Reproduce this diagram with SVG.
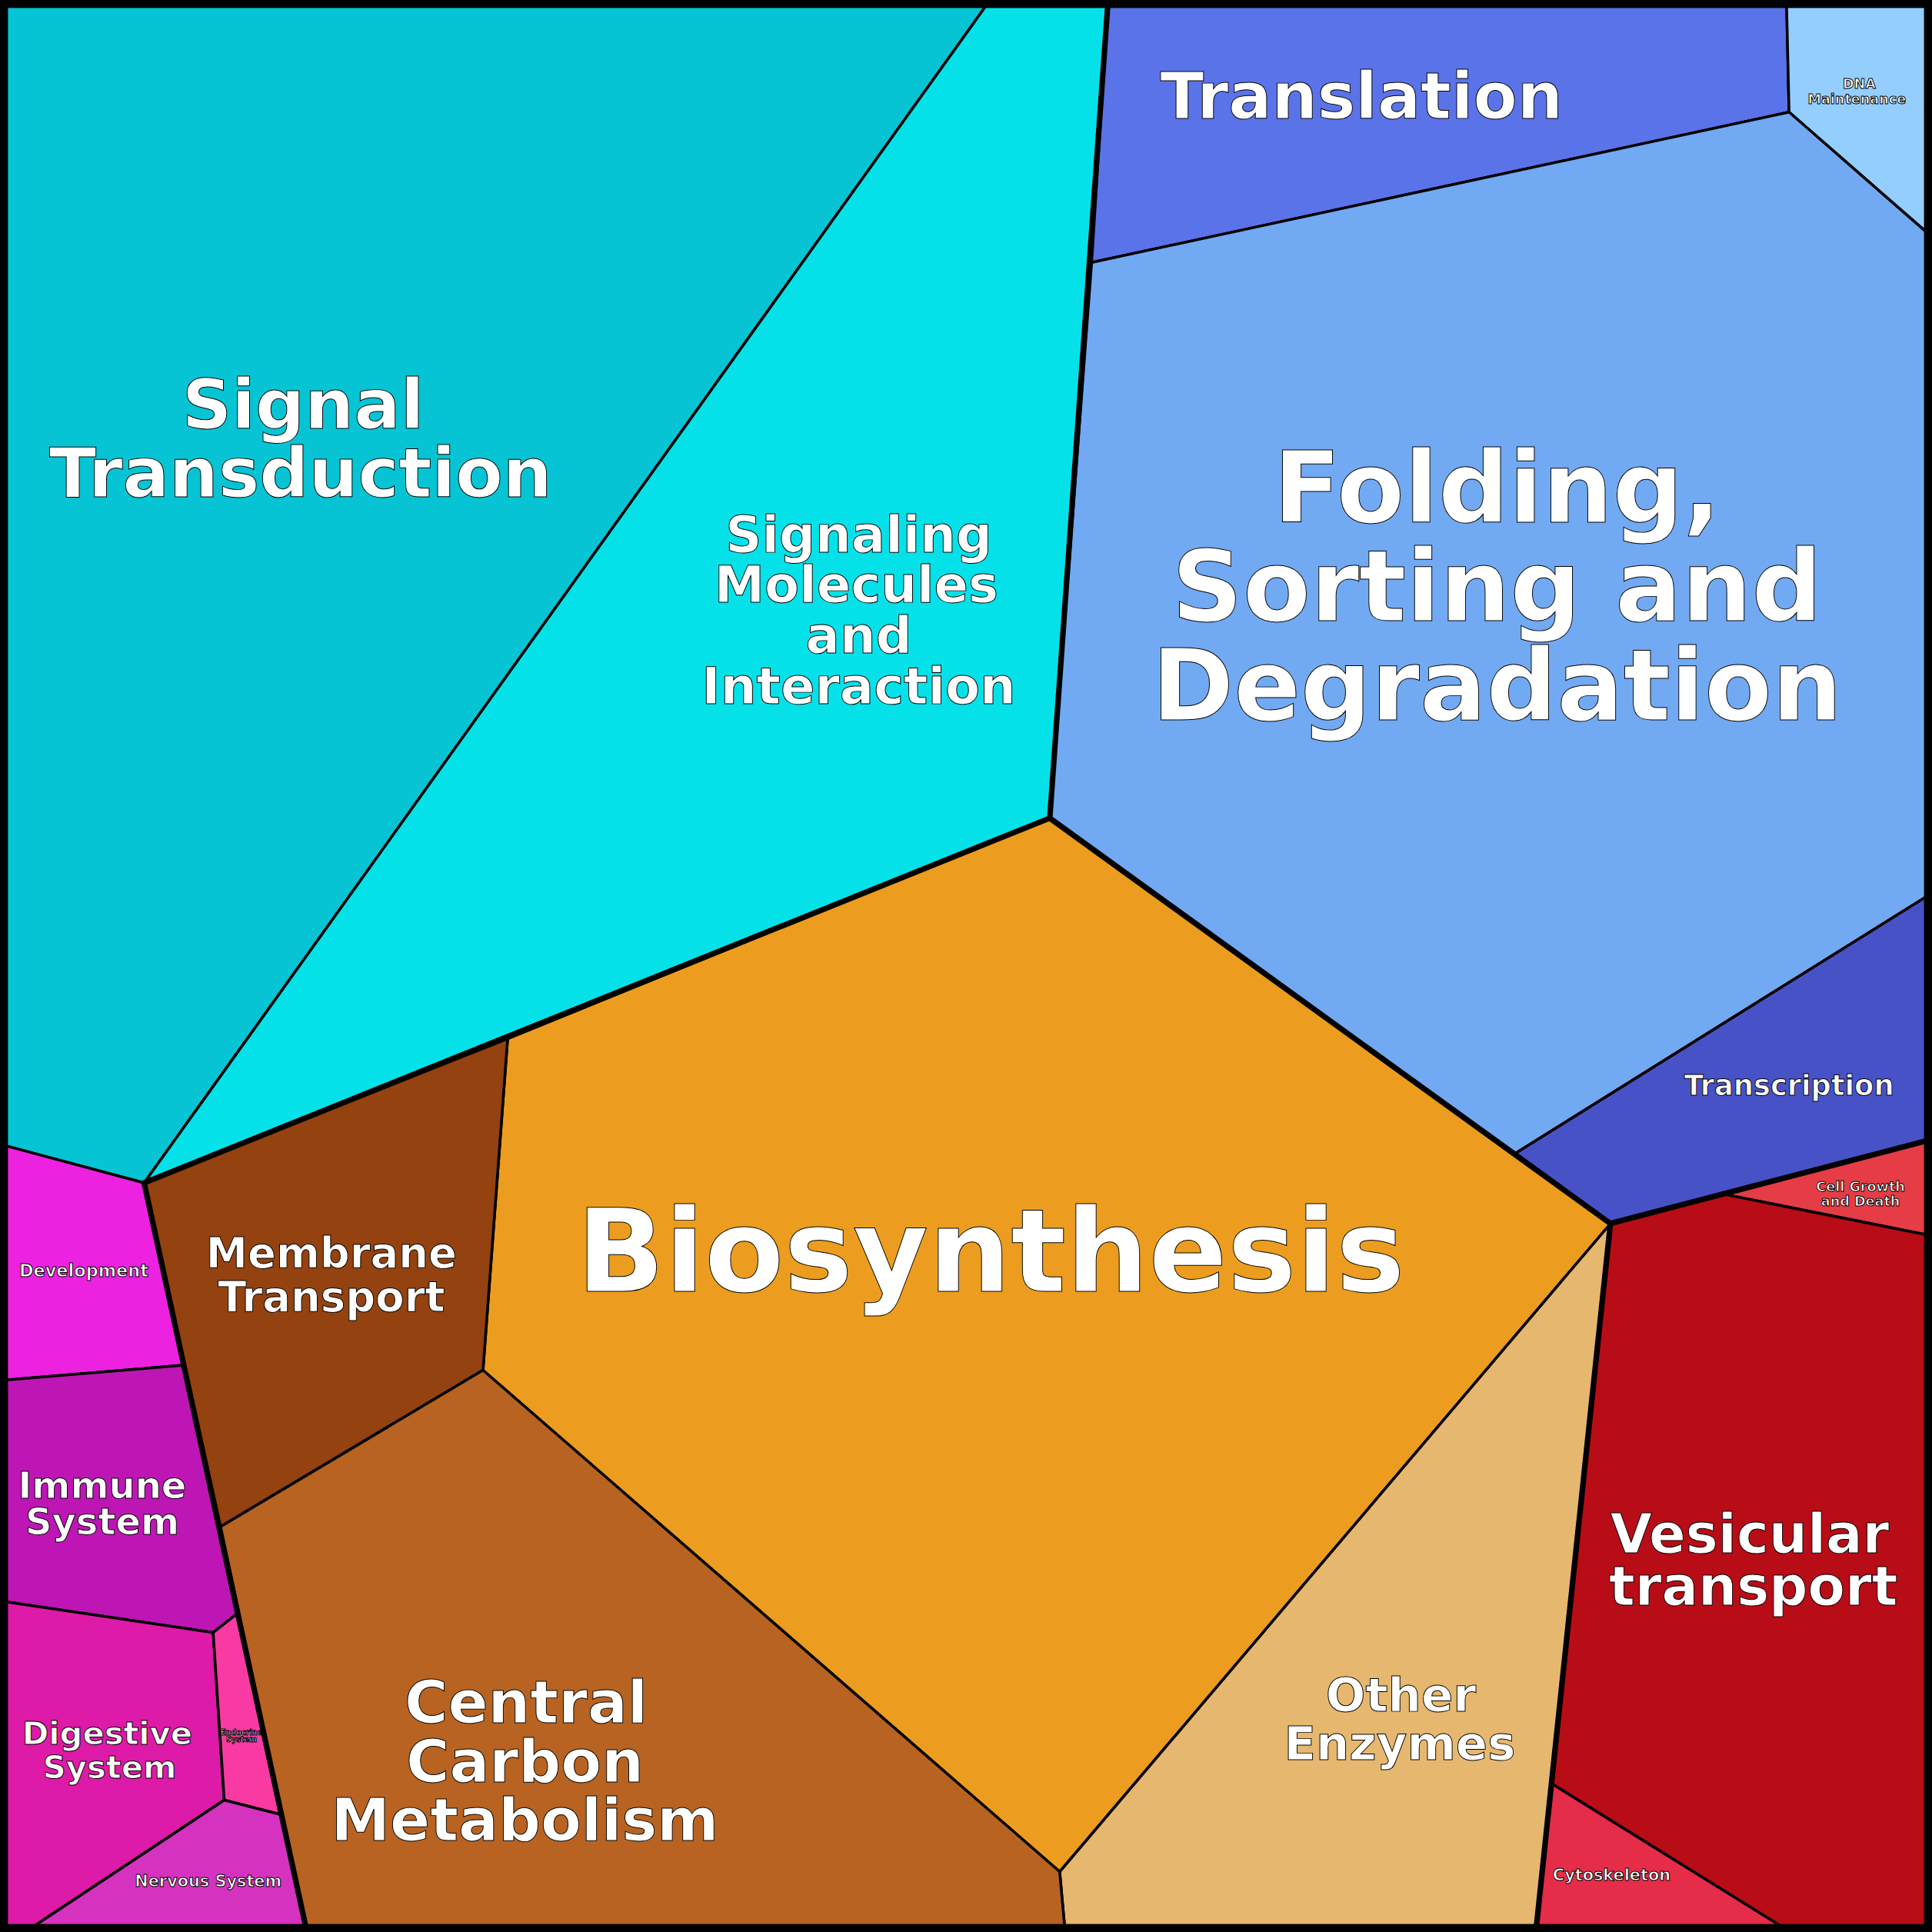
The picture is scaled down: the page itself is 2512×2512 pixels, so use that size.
<svg xmlns="http://www.w3.org/2000/svg" width="2512" height="2512" viewBox="0 0 2512 2512">
<style>
.c{stroke:#000;stroke-width:2.2;stroke-linejoin:round}
.t{font-family:"DejaVu Sans",sans-serif;font-weight:bold;fill:#fff;stroke:#000;stroke-width:0.6;text-anchor:middle;paint-order:normal}
.k{fill:none;stroke:#000;stroke-width:4.5;stroke-linejoin:round;stroke-linecap:round}
</style>
<rect width="2512" height="2512" fill="#000"/>
<g transform="scale(1.60204)">
<g id="signal-transduction"><polygon class="c" fill="#06C4D4" points="5,5 800,5 117,960 5,930"/><text class="t" font-size="56"><tspan x="246" y="348">Signal</tspan><tspan x="244" y="403">Transduction</tspan></text></g>
<g id="signaling-molecules"><polygon class="c" fill="#05E1E9" points="800,5 899,5 886,213 852,664 412,843 117,960"/><text class="t" font-size="41"><tspan x="697" y="448">Signaling</tspan><tspan x="695" y="489">Molecules</tspan><tspan x="697" y="530">and</tspan><tspan x="697" y="571">Interaction</tspan></text></g>
<g id="translation"><polygon class="c" fill="#5B73E8" points="899,5 1450,5 1452,91 886,213"/><text class="t" font-size="52" x="1105" y="96">Translation</text></g>
<g id="dna-maintenance"><polygon class="c" fill="#93CEFE" points="1450,5 1563,5 1563,188 1452,91"/><text class="t" font-size="11" stroke-width="0.3"><tspan x="1509" y="72">DNA</tspan><tspan x="1507" y="84">Maintenance</tspan></text></g>
<g id="folding"><polygon class="c" fill="#72A9F3" points="886,213 1452,91 1563,188 1563,728 1230,936 852,664"/><text class="t" font-size="80"><tspan x="1215" y="424">Folding,</tspan><tspan x="1215" y="504">Sorting and</tspan><tspan x="1215" y="584">Degradation</tspan></text></g>
<g id="transcription"><polygon class="c" fill="#4852C7" points="1230,936 1563,728 1563,926 1398,969 1307,993"/><text class="t" font-size="23" stroke-width="0.4" x="1452" y="889">Transcription</text></g>
<g id="cell-growth"><polygon class="c" fill="#E63C46" points="1398,969 1563,926 1563,1002"/><text class="t" font-size="11" stroke-width="0.3"><tspan x="1510" y="967">Cell Growth</tspan><tspan x="1510" y="979">and Death</tspan></text></g>
<g id="vesicular"><polygon class="c" fill="#B80C16" points="1307,993 1398,969 1563,1002 1563,1563 1445,1563 1260,1448"/><text class="t" font-size="44"><tspan x="1420" y="1260">Vesicular</tspan><tspan x="1423" y="1303">transport</tspan></text></g>
<g id="cytoskeleton"><polygon class="c" fill="#E52C48" points="1260,1448 1445,1563 1247,1563"/><text class="t" font-size="13" stroke-width="0.3" x="1308" y="1526">Cytoskeleton</text></g>
<g id="other-enzymes"><polygon class="c" fill="#E6B76E" points="1307,993 1260,1448 1247,1563 864,1563 860,1519"/><text class="t" font-size="38"><tspan x="1137" y="1389">Other</tspan><tspan x="1136" y="1428">Enzymes</tspan></text></g>
<g id="biosynthesis"><polygon class="c" fill="#EC9D1F" points="852,664 1307,993 860,1519 392,1112 412,843"/><text class="t" font-size="94" x="804" y="1048">Biosynthesis</text></g>
<g id="membrane-transport"><polygon class="c" fill="#934210" points="117,960 412,843 392,1112 179,1239"/><text class="t" font-size="34"><tspan x="269" y="1029">Membrane</tspan><tspan x="269" y="1064">Transport</tspan></text></g>
<g id="central-carbon"><polygon class="c" fill="#B86322" points="179,1239 392,1112 860,1519 864,1563 248,1563"/><text class="t" font-size="48"><tspan x="427" y="1398">Central</tspan><tspan x="426" y="1446">Carbon</tspan><tspan x="426" y="1494">Metabolism</tspan></text></g>
<g id="development"><polygon class="c" fill="#EC22E0" points="5,930 117,960 149,1108 5,1120"/><text class="t" font-size="14" stroke-width="0.3" x="68" y="1036">Development</text></g>
<g id="immune"><polygon class="c" fill="#BD16B5" points="5,1120 149,1108 192,1310 173,1325 5,1300"/><text class="t" font-size="30" stroke-width="0.5"><tspan x="83" y="1216">Immune</tspan><tspan x="83" y="1245">System</tspan></text></g>
<g id="digestive"><polygon class="c" fill="#DE1AA8" points="5,1300 173,1325 182,1461 28,1563 5,1563"/><text class="t" font-size="26" stroke-width="0.4"><tspan x="87" y="1416">Digestive</tspan><tspan x="89" y="1443">System</tspan></text></g>
<g id="endocrine"><polygon class="c" fill="#F93AA3" points="173,1325 192,1310 229,1473 182,1461"/><text class="t" font-size="6" stroke-width="0.15"><tspan x="196" y="1408">Endocrine</tspan><tspan x="196" y="1414">System</tspan></text></g>
<g id="nervous"><polygon class="c" fill="#D532C0" points="182,1461 229,1473 248,1563 28,1563"/><text class="t" font-size="13" stroke-width="0.3" x="169" y="1531">Nervous System</text></g>
<g id="connectors">
<polyline class="k" points="899,5 852,664 1307,993 1563,926"/>
<polyline class="k" points="117,960 852,664"/>
<polyline class="k" points="1307,993 1247,1563"/>
<polyline class="k" points="117,960 248,1563"/>
<rect x="3" y="3" width="1562" height="1562" fill="none" stroke="#000" stroke-width="7"/>
</g>
</g>
</svg>
